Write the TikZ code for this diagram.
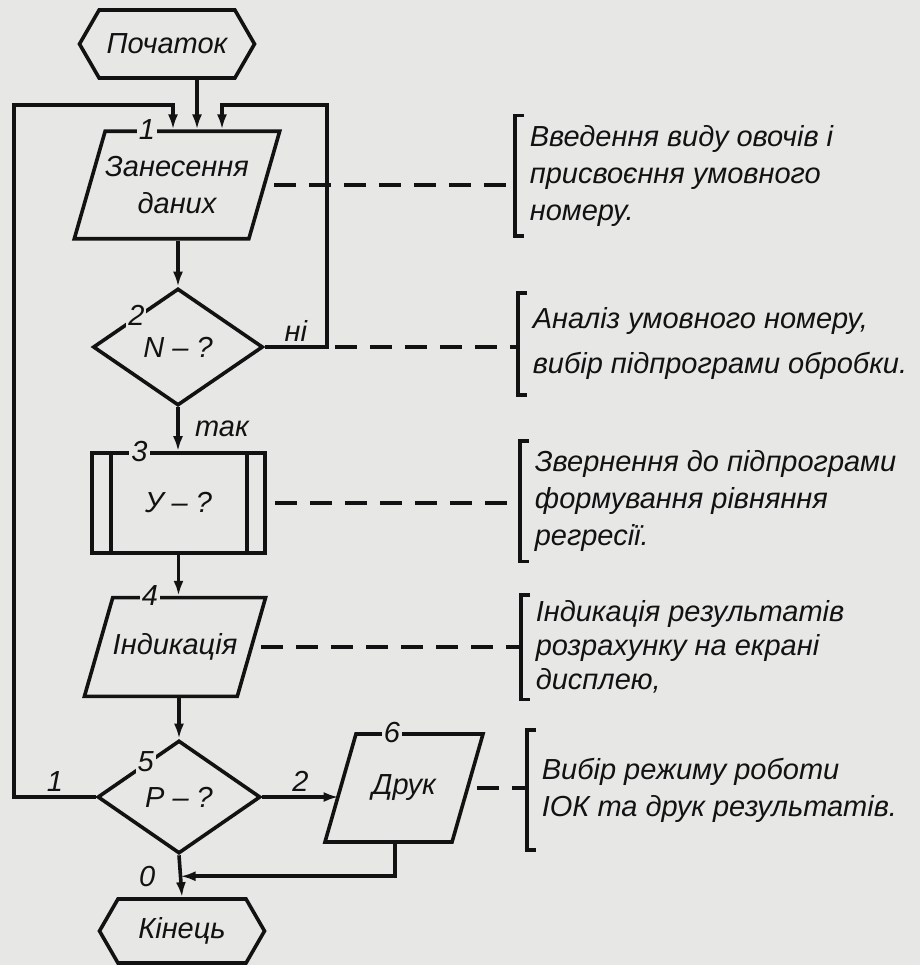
\documentclass[tikz,border=0pt]{standalone}
\usepackage{fontspec}
\setmainfont{Liberation Sans}
\usepackage{tikz}
\usetikzlibrary{positioning,arrows.meta,shapes.geometric,shapes.symbols,calc}
\definecolor{paper}{RGB}{231,231,229}
\definecolor{ink}{RGB}{18,18,18}

\begin{document}
\begin{tikzpicture}[
  x=1pt, y=-1pt,
  font=\fontsize{29}{37}\selectfont\itshape,
  line width=3.6pt, draw=ink, text=ink,
  term/.style={draw, signal, signal to=west and east, signal pointer angle=120, inner sep=0pt},
  io/.style={draw, trapezium, trapezium left angle=74, trapezium right angle=106, trapezium stretches body, inner xsep=0pt, align=center},
  cond/.style={draw, diamond, inner sep=0pt},
  sub/.style={draw, rectangle, inner sep=0pt},
  num/.style={fill=paper, inner sep=2pt},
  note/.style={anchor=west, align=left, inner xsep=13pt, inner ysep=0pt},
  dline/.style={dash pattern=on 22pt off 13pt, shorten <=8pt},
  arr/.style={-{Latex[length=15pt,width=10pt]}}
]
% paper
\fill[paper] (0,0) rectangle (920,965);

% flowchart blocks
\node[term, minimum width=175pt, minimum height=68pt] (start) at (167,44) {Початок};
\node[io, minimum width=180pt, inner ysep=25pt] (b1) at (177,185) {Занесення\\даних};
\node[cond, minimum width=170pt, minimum height=117pt] (d2) at (178,347) {N -- ?};
\node[sub, minimum width=173pt, minimum height=100pt] (b3) at (178.5,503) {У -- ?};
\node[io, minimum width=166pt, inner ysep=36pt] (b4) at (175,647) {Індикація};
\node[cond, minimum width=163pt, minimum height=113pt] (d5) at (179,797) {Р -- ?};
\node[io, minimum width=158pt, inner ysep=41pt] (b6) at (404,788) {Друк};
\node[term, minimum width=165pt, minimum height=64pt] (end) at (182,931) {Кінець};

\draw ([xshift=21pt]b3.north west) -- ([xshift=21pt]b3.south west);
\draw ([xshift=-20pt]b3.north east) -- ([xshift=-20pt]b3.south east);

% block numbers
\node[num] at ([xshift=-30pt]b1.north) {1};
\node[num] at ($(d2.north)!0.48!(d2.west)$) {2};
\node[num] at ([xshift=-39pt]b3.north) {3};
\node[num] at ([xshift=-25pt]b4.north) {4};
\node[num] at ($(d5.north)!0.4!(d5.west)$) {5};
\node[num] at ([xshift=-12pt]b6.north) {6};

% loop corners and inputs of block 1
\coordinate (tl) at (14,105);
\coordinate (tr) at (327,105);
\coordinate (in1) at ([xshift=-4pt]b1.north);
\coordinate (in2) at ([xshift=20pt]b1.north);
\coordinate (in3) at ([xshift=45pt]b1.north);
\coordinate (join) at ($(d5.south)!0.5!(end.north)$);

% connectors
\draw[arr] (start.south -| in2) -- (in2);
\draw[arr] (d2.north |- b1.south) -- (d2.north);
\draw[arr] (d2.east) -- node[above]{ні} (d2.east -| tr) -- (tr) -- (tr -| in3) -- (in3);
\draw[arr] (d2.south) -- node[right, xshift=12pt]{так} (d2.south |- b3.north);
\draw[arr] (b3.south) -- (b3.south |- b4.north);
\draw[arr] (d5.north |- b4.south) -- (d5.north);
\draw[arr] (d5.west) -- node[above]{1} (d5.west -| tl) -- (tl) -- (tl -| in1) -- (in1);
\draw[arr] (d5.east) -- node[above]{2} (d5.east -| b6.west);
\draw[arr] (d5.south) -- node[left, xshift=-20pt]{0} (end.north);
\draw[arr] ([xshift=-9pt]b6.south) |- (join);

% comments
\node[note, minimum height=117pt] (n1) at (515,176) {Введення виду овочів і\\присвоєння умовного\\номеру.};
\node[note, minimum height=98pt] (n2) at (518,344) {Аналіз умовного номеру,\\[8pt]вибір підпрограми обробки.};
\node[note, minimum height=117pt] (n3) at (520,501) {Звернення до підпрограми\\формування рівняння\\регресії.};
\node[note, minimum height=101pt] (n4) at (521,647) {Індикація результатів\\[-3pt]розрахунку на екрані\\[-3pt]дисплею,};
\node[note, minimum height=116pt] (n5) at (527,790) {Вибір режиму роботи\\ІОК та друк результатів.};

\draw ([xshift=9pt]n1.north west) -- (n1.north west) -- (n1.south west) -- ([xshift=9pt]n1.south west);
\draw ([xshift=9pt]n2.north west) -- (n2.north west) -- (n2.south west) -- ([xshift=9pt]n2.south west);
\draw ([xshift=9pt]n3.north west) -- (n3.north west) -- (n3.south west) -- ([xshift=9pt]n3.south west);
\draw ([xshift=9pt]n4.north west) -- (n4.north west) -- (n4.south west) -- ([xshift=9pt]n4.south west);
\draw ([xshift=9pt]n5.north west) -- (n5.north west) -- (n5.south west) -- ([xshift=9pt]n5.south west);

\draw[dline] (b1.east) -- (b1.east -| n1.west);
\draw[dline] (d2.east -| tr) -- (d2.east -| n2.west);
\draw[dline] (b3.east) -- (b3.east -| n3.west);
\draw[dline] (b4.east) -- (b4.east -| n4.west);
\draw[dline] (b6.east) -- (b6.east -| n5.west);
\end{tikzpicture}
\end{document}
